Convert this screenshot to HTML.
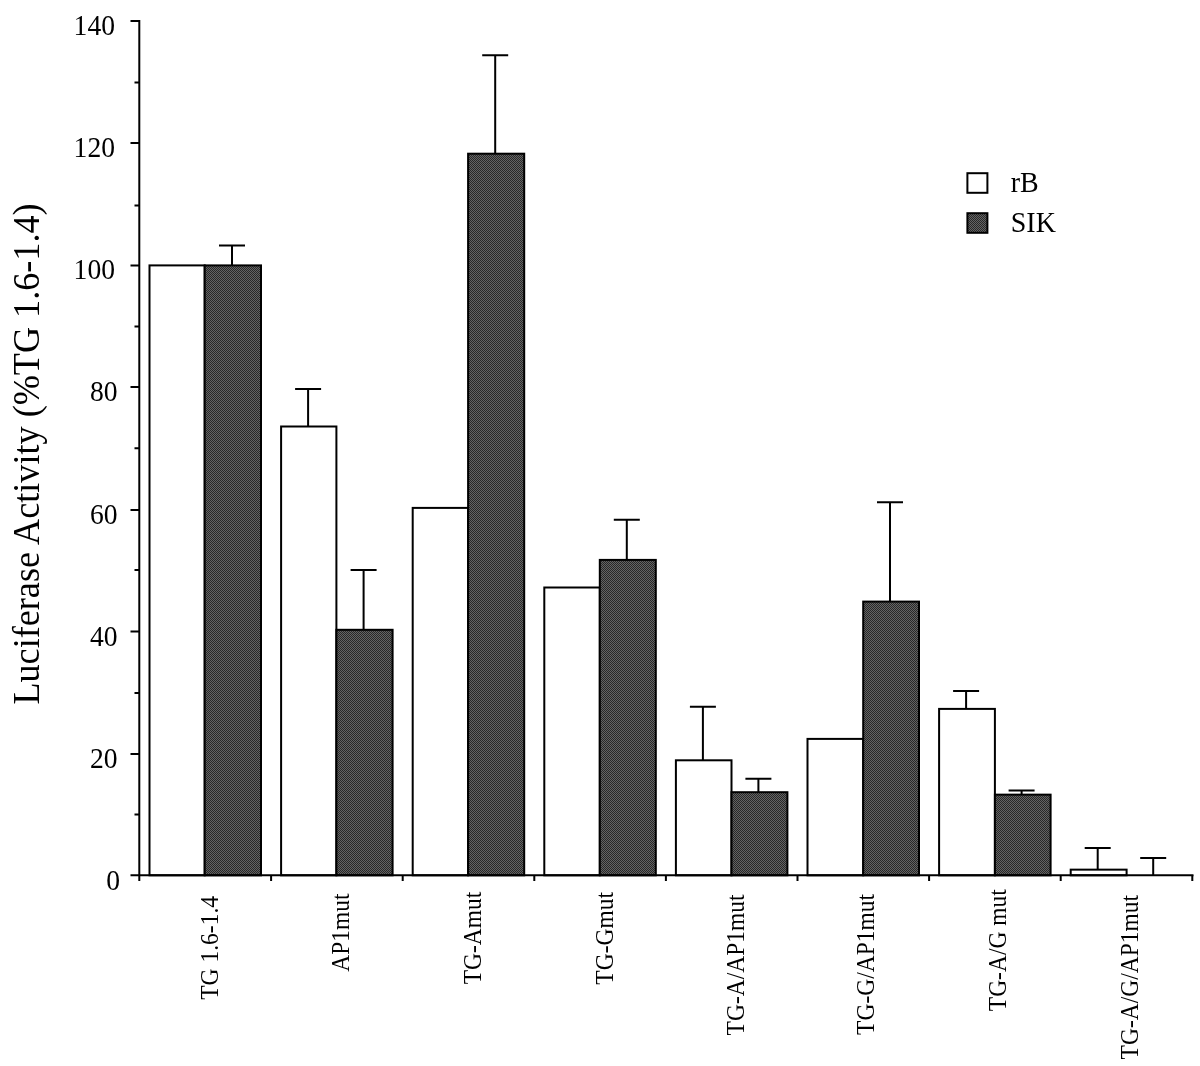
<!DOCTYPE html>
<html lang="en"><head><meta charset="utf-8"><title>Luciferase Activity</title>
<style>html,body{margin:0;padding:0;background:#fff}body{width:1200px;height:1066px;overflow:hidden}svg{display:block}text{font-family:"Liberation Serif","Times New Roman",serif;fill:#000}</style></head><body>
<svg width="1200" height="1066" viewBox="0 0 1200 1066">
<defs><pattern id="hatch" width="2" height="2" patternUnits="userSpaceOnUse"><rect width="2" height="2" fill="#646464"/><rect width="1" height="1" fill="#282828"/><rect x="1" y="1" width="1" height="1" fill="#282828"/></pattern></defs>
<rect width="1200" height="1066" fill="#fff"/>
<g stroke="#000" stroke-width="2" fill="none" stroke-linecap="butt">
<rect x="149.5" y="265.4" width="55.2" height="609.9" fill="#fff"/>
<rect x="204.7" y="265.4" width="56.3" height="609.9" fill="url(#hatch)"/>
<path d="M232 265.4V245.5M219 245.5H245"/>
<rect x="281.1" y="426.5" width="55.3" height="448.8" fill="#fff"/>
<rect x="336.4" y="629.8" width="56.2" height="245.5" fill="url(#hatch)"/>
<path d="M308.1 426.5V389.1M295.1 389.1H321.1"/>
<path d="M363.6 629.8V570.1M350.6 570.1H376.6"/>
<rect x="412.7" y="507.9" width="55.4" height="367.4" fill="#fff"/>
<rect x="468.1" y="153.7" width="56.1" height="721.6" fill="url(#hatch)"/>
<path d="M495.2 153.7V55.2M482.2 55.2H508.2"/>
<rect x="544.3" y="587.5" width="55.5" height="287.8" fill="#fff"/>
<rect x="599.8" y="559.9" width="56" height="315.4" fill="url(#hatch)"/>
<path d="M626.8 559.9V519.8M613.8 519.8H639.8"/>
<rect x="675.9" y="760.3" width="55.6" height="115" fill="#fff"/>
<rect x="731.5" y="792.2" width="55.9" height="83.1" fill="url(#hatch)"/>
<path d="M702.9 760.3V706.7M689.9 706.7H715.9"/>
<path d="M758.4 792.2V778.7M745.4 778.7H771.4"/>
<rect x="807.5" y="738.9" width="55.7" height="136.4" fill="#fff"/>
<rect x="863.2" y="601.6" width="55.8" height="273.7" fill="url(#hatch)"/>
<path d="M890 601.6V502.2M877 502.2H903"/>
<rect x="939.1" y="708.9" width="55.8" height="166.4" fill="#fff"/>
<rect x="994.9" y="794.65" width="55.7" height="80.65" fill="url(#hatch)"/>
<path d="M966.1 708.9V690.9M953.1 690.9H979.1"/>
<path d="M1021.6 794.65V790.4M1008.6 790.4H1034.6"/>
<rect x="1070.7" y="869.65" width="55.9" height="5.65" fill="#fff"/>
<path d="M1097.7 869.65V847.9M1084.7 847.9H1110.7"/>
<path d="M1153.2 875.3V857.9M1140.2 857.9H1166.2"/>
</g>
<g stroke="#000" stroke-width="2" fill="none">
<path d="M139.3 20V880.9"/>
<path d="M130.5 875.3H1193.5"/>
<path d="M134.5 814.5H139.3M130.5 754H139.3M134.5 693H139.3M130.5 631.4H139.3M134.5 570H139.3M130.5 510H139.3M134.5 448.2H139.3M130.5 387H139.3M134.5 326.6H139.3M130.5 265.4H139.3M134.5 205.4H139.3M130.5 143H139.3M134.5 82.4H139.3M130.5 21H139.3"/>
<path d="M271.1 875.3V880.9M402.7 875.3V880.9M534.3 875.3V880.9M665.9 875.3V880.9M797.5 875.3V880.9M929.1 875.3V880.9M1060.7 875.3V880.9M1192.3 875.3V880.9"/>
</g>
<g font-size="30" text-anchor="end">
<text transform="translate(120 889.6) scale(0.92 1)">0</text>
<text transform="translate(117.5 768.3) scale(0.92 1)">20</text>
<text transform="translate(117.5 645.7) scale(0.92 1)">40</text>
<text transform="translate(117.5 524.3) scale(0.92 1)">60</text>
<text transform="translate(117.5 401.3) scale(0.92 1)">80</text>
<text transform="translate(115 279.3) scale(0.92 1)">100</text>
<text transform="translate(115 157.3) scale(0.92 1)">120</text>
<text transform="translate(115 35.3) scale(0.92 1)">140</text>
</g>
<g font-size="25" text-anchor="end">
<text transform="translate(217.7 896) rotate(-90) scale(0.94 1)">TG 1.6-1.4</text>
<text transform="translate(349.4 893.5) rotate(-90) scale(0.94 1)">AP1mut</text>
<text transform="translate(481.1 891.7) rotate(-90) scale(0.94 1)">TG-Amut</text>
<text transform="translate(612.6 892) rotate(-90) scale(0.94 1)">TG-Gmut</text>
<text transform="translate(743.9 894.5) rotate(-90) scale(0.94 1)">TG-A/AP1mut</text>
<text transform="translate(874.3 894) rotate(-90) scale(0.94 1)">TG-G/AP1mut</text>
<text transform="translate(1005.7 889.2) rotate(-90) scale(0.94 1)">TG-A/G mut</text>
<text transform="translate(1137.5 895) rotate(-90) scale(0.94 1)">TG-A/G/AP1mut</text>
</g>
<text font-size="37" text-anchor="end" transform="translate(39 203.4) rotate(-90) scale(0.978 1)">Luciferase Activity (%TG 1.6-1.4)</text>
<g stroke="#000" stroke-width="2"><rect x="967.4" y="173.2" width="20" height="19.6" fill="#fff"/><rect x="967.4" y="213.2" width="20" height="19.6" fill="url(#hatch)"/></g>
<g font-size="29"><text transform="translate(1010.8 191.8) scale(0.965 1)">rB</text><text transform="translate(1010.8 231.7) scale(0.965 1)">SIK</text></g>
</svg></body></html>
